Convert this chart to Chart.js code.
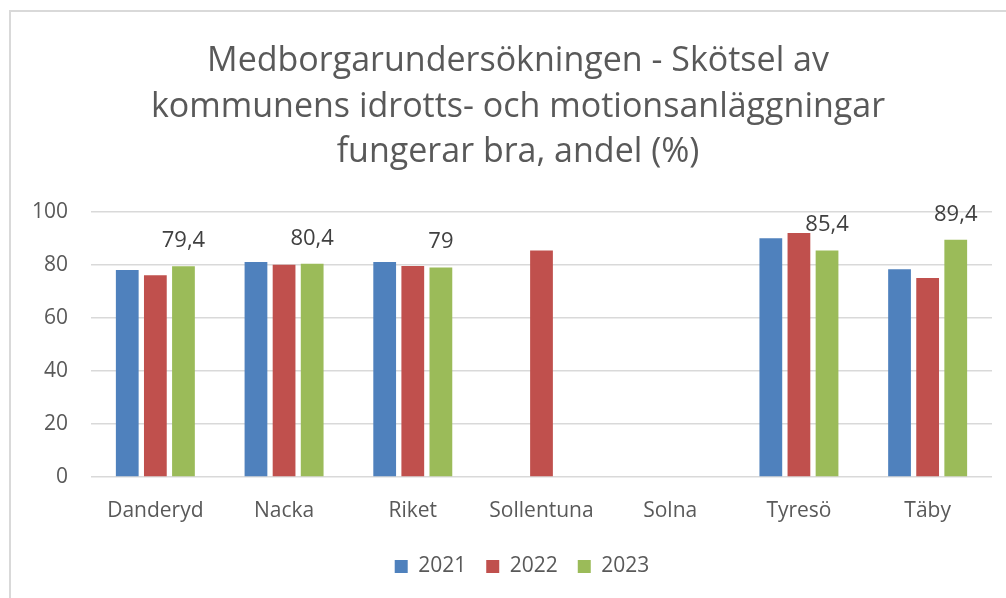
<!DOCTYPE html>
<html>
<head>
<meta charset="utf-8">
<script src="https://cdn.jsdelivr.net/npm/chart.js@4.4.1/dist/chart.umd.min.js"></script>
<style>
  html, body { margin: 0; padding: 0; background: #ffffff; }
  #wrap { position: relative; width: 1006px; height: 598px; overflow: hidden; }
  #frame { position: absolute; left: 9px; top: 10px; width: 1100px; height: 700px; border-left: 2px solid #d9d9d9; border-top: 2px solid #d9d9d9; box-sizing: border-box; pointer-events: none; }
  canvas { display: block; }
</style>
</head>
<body>
<div id="wrap">
  <canvas id="c" width="1006" height="598"></canvas>
  <div id="frame"></div>
</div>
<script>
const categories = ["Danderyd", "Nacka", "Riket", "Sollentuna", "Solna", "Tyresö", "Täby"];
const seriesNames = ["2021", "2022", "2023"];
const values2021 = [78, 81, 81, null, null, 90, 78.3];
const values2022 = [76, 80, 79.5, 85.4, null, 92, 75];
const values2023 = [79.4, 80.4, 79, null, null, 85.4, 89.4];
const yTicks = [0, 20, 40, 60, 80, 100];
const titleLines = ["Medborgarundersökningen - Skötsel av", "kommunens idrotts- och motionsanläggningar", "fungerar bra, andel (%)"];
const colors = ["#4f81bd", "#c0504d", "#9bbb59"];

const FONT = "'Open Sans', 'Liberation Sans', sans-serif";

const labelPlugin = {
  id: 'valueLabels',
  afterDatasetsDraw(chart) {
    const ctx = chart.ctx;
    const idx = 2;
    const meta = chart.getDatasetMeta(idx);
    ctx.save();
    ctx.font = "22px " + FONT;
    ctx.fillStyle = "#404040";
    ctx.textAlign = "center";
    ctx.textBaseline = "alphabetic";
    meta.data.forEach((bar, i) => {
      const v = chart.data.datasets[idx].data[i];
      if (v === null || v === undefined) return;
      const txt = String(v).replace('.', ',');
      ctx.fillText(txt, bar.x, bar.y - 19);
    });
    ctx.restore();
  }
};

const blockShift = {
  id: 'blockShift',
  afterLayout(chart) {
    const lg = chart.legend;
    if (lg) {
      const d = 522 - (lg.left + lg.right) / 2;
      lg.left += d; lg.right += d;
      if (lg.legendHitBoxes) lg.legendHitBoxes.forEach(b => { b.left += d; });
    }
    const tb = chart.titleBlock;
    if (tb) {
      const d = 518 - (tb.left + tb.right) / 2;
      tb.left += d; tb.right += d;
    }
  }
};

new Chart(document.getElementById('c'), {
  type: 'bar',
  data: {
    labels: categories,
    datasets: [
      { label: seriesNames[0], data: values2021, backgroundColor: colors[0] },
      { label: seriesNames[1], data: values2022, backgroundColor: colors[1] },
      { label: seriesNames[2], data: values2023, backgroundColor: colors[2] }
    ]
  },
  options: {
    responsive: false,
    animation: false,
    devicePixelRatio: 1,
    layout: { padding: { left: 22, right: 14, top: 10, bottom: 11 } },
    datasets: { bar: { categoryPercentage: 0.655, barPercentage: 0.81 } },
    plugins: {
      title: {
        display: true,
        text: titleLines,
        color: "#595959",
        font: { family: FONT, size: 34, weight: 'normal', lineHeight: 1.35 },
        padding: { top: 28, bottom: 36 }
      },
      legend: {
        position: 'bottom',
        labels: {
          color: "#595959",
          font: { family: FONT, size: 21 },
          boxWidth: 13, boxHeight: 13,
          padding: 20
        }
      },
      tooltip: { enabled: false }
    },
    scales: {
      x: {
        afterFit(s) { s.height = 59; },
        grid: { display: false },
        border: { display: false },
        ticks: { color: "#595959", font: { family: FONT, size: 21 }, padding: 13 }
      },
      y: {
        min: 0, max: 100,
        afterFit(s) { s.width = 69; },
        afterBuildTicks(s) { s.ticks = yTicks.map(v => ({ value: v })); },
        grid: { color: "#d9d9d9", lineWidth: 1.5, drawTicks: false },
        border: { display: false },
        ticks: { color: "#595959", font: { family: FONT, size: 21 }, padding: 23 }
      }
    }
  },
  plugins: [labelPlugin, blockShift]
});
</script>
</body>
</html>
